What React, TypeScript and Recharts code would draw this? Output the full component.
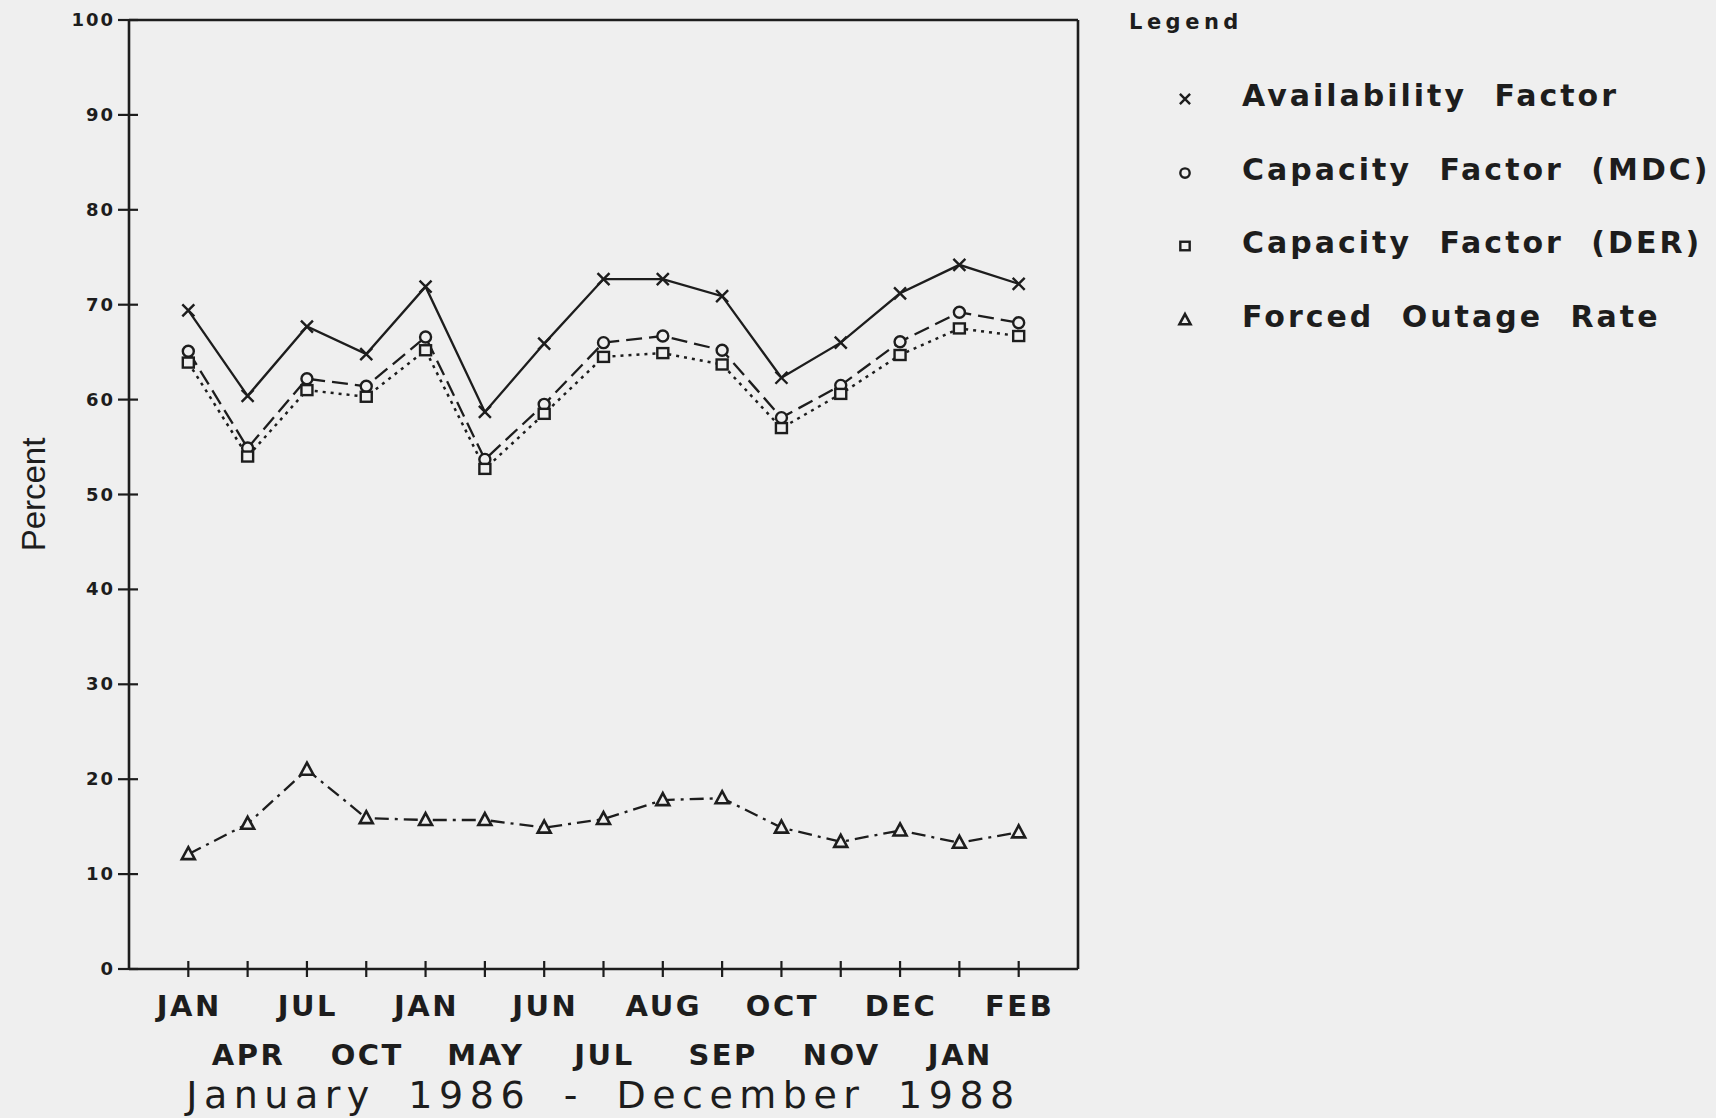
import React from 'react';
import { LineChart, Line, XAxis, YAxis, ReferenceLine } from 'recharts';

// Monthly unit performance, Jan 1986 - Dec 1988 (every other quarter-ish sample)
const MONTHS = ['JAN', 'APR', 'JUL', 'OCT', 'JAN', 'MAY', 'JUN', 'JUL', 'AUG', 'SEP', 'OCT', 'NOV', 'DEC', 'JAN', 'FEB'];
const AVAILABILITY = [69.4, 60.4, 67.7, 64.8, 71.9, 58.7, 65.9, 72.7, 72.7, 70.9, 62.3, 66.0, 71.2, 74.2, 72.2];
const CAPACITY_MDC = [65.1, 54.9, 62.2, 61.4, 66.6, 53.7, 59.5, 66.0, 66.7, 65.2, 58.1, 61.5, 66.1, 69.2, 68.1];
const CAPACITY_DER = [63.9, 54.0, 61.0, 60.3, 65.2, 52.7, 58.5, 64.5, 64.9, 63.7, 57.0, 60.6, 64.7, 67.5, 66.7];
const FORCED_OUTAGE = [12.1, 15.3, 21.0, 15.9, 15.7, 15.7, 14.9, 15.8, 17.8, 18.0, 14.9, 13.4, 14.6, 13.3, 14.4];
const Y_TICKS = [0, 10, 20, 30, 40, 50, 60, 70, 80, 90, 100];
const LEGEND_ITEMS = [
  { label: 'Availability Factor', shape: 'cross' },
  { label: 'Capacity Factor (MDC)', shape: 'circle' },
  { label: 'Capacity Factor (DER)', shape: 'square' },
  { label: 'Forced Outage Rate', shape: 'triangle' },
];

const INK = '#1d1d1d';
const PAPER = '#efefef';
const FONT = '"DejaVu Sans", "Liberation Sans", sans-serif';

const data = MONTHS.map((m, i) => ({
  idx: i,
  month: m,
  avail: AVAILABILITY[i],
  mdc: CAPACITY_MDC[i],
  der: CAPACITY_DER[i],
  forced: FORCED_OUTAGE[i],
}));

const Marker = ({ shape, cx, cy, s = 1 }: { shape: string; cx: number; cy: number; s?: number }) => {
  switch (shape) {
    case 'cross':
      return (
        <path
          d={`M${cx - 6 * s},${cy - 6 * s}L${cx + 6 * s},${cy + 6 * s}M${cx - 6 * s},${cy + 6 * s}L${cx + 6 * s},${cy - 6 * s}`}
          stroke={INK}
          strokeWidth={2.4}
        />
      );
    case 'circle':
      return <circle cx={cx} cy={cy} r={5.5 * s} fill={PAPER} stroke={INK} strokeWidth={2.4} />;
    case 'square':
      return <rect x={cx - 5.5 * s} y={cy - 5 * s} width={11 * s} height={10 * s} fill={PAPER} stroke={INK} strokeWidth={2.4} />;
    default:
      return (
        <path
          d={`M${cx},${cy - 7 * s}L${cx + 6.5 * s},${cy + 5 * s}L${cx - 6.5 * s},${cy + 5 * s}Z`}
          fill={PAPER}
          stroke={INK}
          strokeWidth={2.6}
        />
      );
  }
};

const dotOf = (shape: string) => (p: any) => (
  <g key={`${shape}-${p.index}`}>
    <Marker shape={shape} cx={p.cx} cy={p.cy} />
  </g>
);

// month labels alternate between two rows under the axis
const XTick = ({ x, y, payload }: any) => {
  const i = payload.value as number;
  const lower = i % 2 === 1;
  return (
    <g>
      <line x1={x} x2={x} y1={y - 8} y2={y + 8} stroke={INK} strokeWidth={2.2} />
      <text
        x={x + 1}
        y={y + (lower ? 96 : 47)}
        textAnchor="middle"
        fontFamily={FONT}
        fontWeight="bold"
        fontSize={29}
        letterSpacing={2.5}
        fill={INK}
      >
        {MONTHS[i]}
      </text>
    </g>
  );
};

const YTick = ({ x, y, payload }: any) => (
  <g>
    <line x1={x - 11} x2={x + 9} y1={y} y2={y} stroke={INK} strokeWidth={2.2} />
    <text
      x={x - 14}
      y={y}
      dy={6}
      textAnchor="end"
      fontFamily={FONT}
      fontWeight="bold"
      fontSize={18}
      letterSpacing={2}
      fill={INK}
    >
      {payload.value}
    </text>
  </g>
);

const PercentLabel = ({ viewBox }: any) => {
  const cy = viewBox.y + viewBox.height / 2;
  return (
    <text
      x={45}
      y={cy}
      transform={`rotate(-90, 45, ${cy})`}
      textAnchor="middle"
      fontFamily='"Liberation Sans", sans-serif'
      fontSize={33}
      fill={INK}
    >
      Percent
    </text>
  );
};

const Legend = () => (
  <div style={{ position: 'absolute', left: 1129, top: 0, fontFamily: FONT, color: INK }}>
    <div style={{ position: 'absolute', top: 10, left: 0, fontSize: 21, fontWeight: 'bold', letterSpacing: 4.5, whiteSpace: 'nowrap' }}>
      Legend
    </div>
    {LEGEND_ITEMS.map((item, i) => (
      <div key={item.label} style={{ position: 'absolute', top: 96 + i * 73.5 - 18, left: 0, height: 36, whiteSpace: 'nowrap' }}>
        <svg width={30} height={36} style={{ position: 'absolute', left: 41, top: 0 }}>
          <Marker shape={item.shape} cx={15} cy={21} s={0.85} />
        </svg>
        <span
          style={{
            position: 'absolute',
            left: 113,
            top: 0,
            fontSize: 30,
            lineHeight: '36px',
            fontWeight: 'bold',
            letterSpacing: 3,
            wordSpacing: 14,
          }}
        >
          {item.label}
        </span>
      </div>
    ))}
  </div>
);

export default function App() {
  return (
    <div style={{ position: 'absolute', left: 0, top: 0, width: 1716, height: 1118, background: PAPER, overflow: 'hidden' }}>
      <LineChart width={1716} height={1118} data={data} margin={{ top: 20, right: 638, bottom: 0, left: 0 }}>
        <XAxis
          dataKey="idx"
          type="number"
          domain={[-1, 15]}
          ticks={data.map((d) => d.idx)}
          interval={0}
          height={149}
          tickSize={0}
          tickMargin={0}
          tickLine={false}
          axisLine={{ stroke: INK, strokeWidth: 2.6 }}
          tick={<XTick />}
          label={{
            value: 'January 1986 - December 1988',
            position: 'insideBottom',
            offset: 10,
            fontFamily: FONT,
            fontSize: 38,
            letterSpacing: 6.5,
            wordSpacing: 14,
            fill: INK,
          }}
        />
        <YAxis
          type="number"
          domain={[0, 100]}
          ticks={Y_TICKS}
          interval={0}
          width={129}
          tickSize={0}
          tickMargin={0}
          tickLine={false}
          axisLine={{ stroke: INK, strokeWidth: 2.6 }}
          tick={<YTick />}
          label={<PercentLabel />}
        />
        <ReferenceLine y={100} stroke={INK} strokeWidth={2.6} />
        <ReferenceLine x={15} stroke={INK} strokeWidth={2.6} />
        <Line
          dataKey="avail"
          type="linear"
          stroke={INK}
          strokeWidth={2.3}
          dot={dotOf('cross')}
          activeDot={false}
          isAnimationActive={false}
        />
        <Line
          dataKey="mdc"
          type="linear"
          stroke={INK}
          strokeWidth={2.3}
          strokeDasharray="16 7"
          dot={dotOf('circle')}
          activeDot={false}
          isAnimationActive={false}
        />
        <Line
          dataKey="der"
          type="linear"
          stroke={INK}
          strokeWidth={2.5}
          strokeDasharray="3 5"
          dot={dotOf('square')}
          activeDot={false}
          isAnimationActive={false}
        />
        <Line
          dataKey="forced"
          type="linear"
          stroke={INK}
          strokeWidth={2.3}
          strokeDasharray="14 6 3 6"
          dot={dotOf('triangle')}
          activeDot={false}
          isAnimationActive={false}
        />
      </LineChart>
      <Legend />
    </div>
  );
}
